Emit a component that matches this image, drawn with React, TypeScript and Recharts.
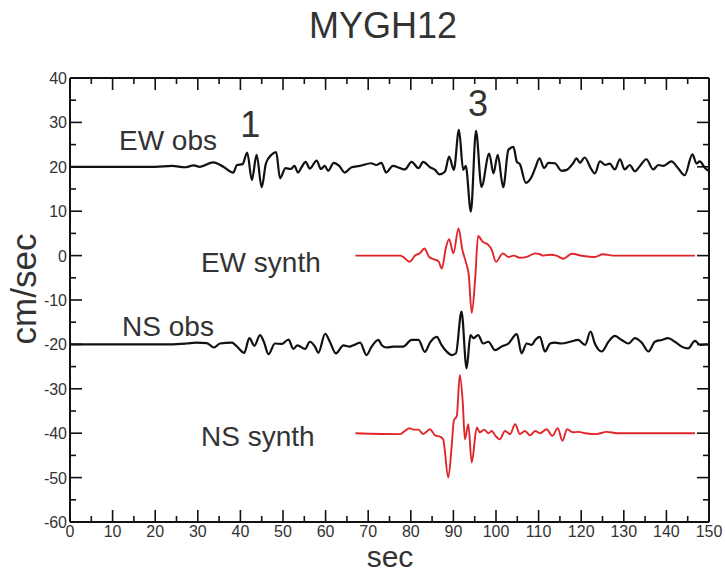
import { LineChart, Line, XAxis, YAxis, ReferenceDot } from 'recharts';

// EW observed, offset to +20
const ewObsT = [0, 10, 20, 24, 27, 29, 30.5, 33.6, 36, 38.3, 39.2, 40.5, 41.6, 42.7, 43.8, 45, 46, 47.3, 48.4, 49.3, 50.6, 51.8, 52.7, 53.5, 54.3, 55.3, 56.3, 57.9, 58.9, 59.8, 60.6, 61.9, 63.2, 64.5, 66.1, 68, 70.7, 71.9, 73.1, 74.2, 75.8, 77.5, 78.6, 80.2, 81.8, 82.9, 84.5, 85.7, 86.7, 88, 89, 90.1, 91.3, 92.3, 92.9, 94.1, 95.3, 96.6, 98.4, 99.4, 100.4, 101.7, 102.9, 104.1, 104.9, 105.6, 107, 108.4, 109.2, 110.2, 111.3, 112.3, 113.8, 115.4, 116.6, 118.1, 118.9, 119.7, 120.8, 122.4, 123.2, 124.4, 125.7, 126.7, 127.9, 129.1, 130.2, 131.4, 132.6, 133.8, 135.3, 136.9, 138.1, 139.3, 141.2, 142.8, 144.3, 146.1, 147.1, 147.8, 149.1, 150];
const ewObsV = [20, 20, 20, 20.2, 19.9, 20.3, 20, 21, 20, 18.7, 20.4, 20.6, 23.2, 17, 22.7, 15.4, 20.8, 22.7, 23.3, 17.4, 19.7, 19.5, 20.2, 18.7, 19.8, 21.1, 19.6, 21.4, 19.5, 20.2, 19.1, 20.9, 20.2, 18.7, 19.9, 20.2, 20.8, 20.4, 20.9, 18.7, 20.2, 19.7, 19.4, 21.1, 19.7, 21.1, 19.9, 19.3, 18.3, 18.9, 22.3, 19.3, 28.3, 19.3, 20.2, 9.9, 28.1, 15.5, 23, 18.5, 22.7, 15.4, 23.8, 24.5, 21.1, 20.6, 16.4, 17.8, 19.7, 21.9, 19.7, 20.9, 20.8, 19.1, 19.3, 20.8, 21.9, 20.9, 22.1, 19.4, 18.5, 21.2, 20.4, 20.7, 19.4, 21.7, 19.4, 20.4, 19, 20.2, 21.7, 19.4, 20.4, 20.2, 21.2, 19.6, 18.1, 22.8, 20.7, 21.2, 19.7, 19];

// EW synthetic, offset 0
const ewSynT = [67, 77.5, 78.2, 79.7, 81, 82.2, 83.2, 84.3, 85.7, 86.5, 87.3, 88.2, 89, 90, 91.2, 92.1, 93, 93.6, 94.3, 95.1, 95.8, 96.9, 98.2, 99, 100, 101.6, 102.9, 104.1, 105.6, 107.2, 109.2, 110.3, 111.1, 112.7, 114.2, 115.8, 117.8, 120.5, 123.2, 125.1, 127.5, 146.7];
const ewSynV = [0, 0, -0.3, -1.4, 0, 0.6, 1.6, -0.3, -0.9, -1.3, -2.9, 1.6, 3.7, 0.5, 6.1, 1.3, -1.7, -4.3, -12.9, -5.4, 4.4, 3.1, 2.4, 1.3, -1.4, 0.5, -0.3, 0, -0.5, -0.3, 0.5, 0.3, 0, 0.2, 0, -0.7, 0.4, -0.1, -0.3, 0.3, 0, 0];

// NS observed, offset to -20
const nsObsT = [0, 10, 23.5, 27.4, 29.7, 32.1, 33.8, 35.2, 38, 39.1, 40.9, 42.1, 43.3, 44.6, 45.5, 46.6, 48.1, 49.7, 51.3, 52.4, 53.4, 55.2, 56.3, 57.5, 58.3, 59.9, 61, 62.4, 64.2, 65.6, 66.5, 68.1, 69.6, 70.8, 72.4, 73.2, 74.3, 75.9, 78.2, 80.2, 81.8, 83.3, 84.5, 86.1, 87.2, 88.4, 89.6, 90.6, 91.9, 93.1, 94, 94.7, 95.8, 97, 98.2, 99.8, 101.3, 102.9, 104.9, 106, 107.2, 108.4, 109.2, 110.3, 111.5, 112.7, 113.8, 115.4, 117.4, 119.3, 120.9, 122.2, 123.2, 124.8, 126.4, 127.9, 129.5, 131.1, 132.6, 134.2, 135.8, 137.3, 138.9, 140.4, 142, 143.6, 145.1, 146.7, 147.9, 150];
const nsObsV = [-20, -20, -20, -19.8, -19.6, -19.7, -20.7, -19.8, -19.6, -20.4, -21.9, -18.6, -20.3, -17.9, -19.4, -22.2, -19.8, -19.9, -18.9, -21, -20.2, -21, -19.4, -20.5, -21.9, -17.6, -19.4, -22, -20.2, -20.5, -20.2, -19.6, -22.4, -20.5, -19, -20.2, -20.7, -20.5, -20.5, -19, -19, -21.7, -19.6, -18.3, -20.1, -21.6, -22.4, -22, -12.6, -25.4, -17.9, -18.6, -17.9, -19.8, -19.4, -21.3, -20.5, -19.8, -17.7, -22, -19.8, -20.1, -19, -18.3, -21.6, -19.8, -19.6, -19.8, -19.4, -19, -20.1, -17.1, -19.8, -21.6, -19.4, -18.1, -19, -19.8, -18.6, -19.6, -21.6, -19.4, -19, -18.6, -19.4, -20.5, -20.9, -19.2, -20.1, -20];

// NS synthetic, offset to -40
const nsSynT = [67, 77.5, 78.6, 79.7, 80.6, 81.8, 82.9, 84.5, 85.7, 86.9, 87.6, 88.8, 89.6, 90.1, 90.8, 91.5, 92.2, 92.7, 93.5, 94.3, 95.5, 96.2, 97.2, 98.2, 99, 99.8, 100.9, 102.1, 103.3, 104.5, 105.6, 106.8, 108, 109.2, 110.3, 111.9, 113.2, 114.5, 115.6, 116.7, 118, 119.3, 121, 123.5, 126, 128.5, 146.7];
const nsSynV = [-40, -40.2, -39.5, -38.9, -39.2, -39.2, -40.2, -39.1, -40.5, -40.8, -41.4, -50, -42.9, -37.2, -36.1, -26.9, -33.1, -41.4, -38, -46.6, -38.7, -39.8, -39.2, -40, -39.5, -40.5, -41.4, -39.5, -40.2, -38, -40.2, -39.5, -40.5, -39.5, -40, -39.1, -40.6, -38.9, -41.7, -39.1, -39.8, -39.7, -40, -40.2, -39.7, -40, -40];

const xTicks = [0, 5, 10, 15, 20, 25, 30, 35, 40, 45, 50, 55, 60, 65, 70, 75, 80, 85, 90, 95, 100, 105, 110, 115, 120, 125, 130, 135, 140, 145, 150];
const yTicks = [-60, -55, -50, -45, -40, -35, -30, -25, -20, -15, -10, -5, 0, 5, 10, 15, 20, 25, 30, 35, 40];

// trace labels: [text, t, v, size]
const labels: [string, number, number, number][] = [
  ['EW obs', 23, 26, 28],
  ['1', 42.3, 29.6, 36],
  ['3', 95.8, 34.4, 36],
  ['EW synth', 44.8, -1.5, 28],
  ['NS obs', 23, -15.9, 28],
  ['NS synth', 44.1, -40.6, 28],
];

const FONT = '"Liberation Sans", Arial, Helvetica, sans-serif';
const TEXT = '#333';

const toPoints = (ts: number[], vs: number[]) => ts.map((t, i) => ({ t, v: vs[i] }));

const tickLen = (v: number) => (v % 10 === 0 ? 12 : 6);

const BottomTick = ({ x, y, payload }: any) => (
  <g>
    <line x1={x} y1={y} x2={x} y2={y - tickLen(payload.value)} stroke="#111" strokeWidth={1.6} />
    {payload.value % 10 === 0 && (
      <text x={x} y={y + 15} textAnchor="middle" fontSize={16} fill={TEXT} fontFamily={FONT}>
        {payload.value}
      </text>
    )}
  </g>
);

const TopTick = ({ x, y, payload }: any) => (
  <line x1={x} y1={y} x2={x} y2={y + tickLen(payload.value)} stroke="#111" strokeWidth={1.6} />
);

const LeftTick = ({ x, y, payload }: any) => (
  <g>
    <line x1={x} y1={y} x2={x + tickLen(payload.value)} y2={y} stroke="#111" strokeWidth={1.6} />
    {payload.value % 10 === 0 && (
      <text x={x - 3} y={y + 6} textAnchor="end" fontSize={16} fill={TEXT} fontFamily={FONT}>
        {payload.value}
      </text>
    )}
  </g>
);

const RightTick = ({ x, y, payload }: any) => (
  <line x1={x} y1={y} x2={x - tickLen(payload.value)} y2={y} stroke="#111" strokeWidth={1.6} />
);

export default function App() {
  const axisLine = { stroke: '#111', strokeWidth: 2 };
  return (
    <div style={{ position: 'absolute', left: 0, top: 0, width: 725, height: 575, background: '#fff' }}>
      <LineChart width={725} height={575} margin={{ top: 77, right: 15, bottom: 52, left: 69 }}>
        <XAxis
          type="number"
          dataKey="t"
          domain={[0, 150]}
          ticks={xTicks}
          height={1}
          tickSize={0}
          tickMargin={0}
          tickLine={false}
          axisLine={axisLine}
          tick={BottomTick}
          interval={0}
          allowDataOverflow
        />
        <XAxis
          xAxisId="top"
          orientation="top"
          type="number"
          dataKey="t"
          domain={[0, 150]}
          ticks={xTicks}
          height={1}
          tickSize={0}
          tickMargin={0}
          tickLine={false}
          axisLine={axisLine}
          tick={TopTick}
          interval={0}
          allowDataOverflow
        />
        <YAxis
          type="number"
          domain={[-60, 40]}
          ticks={yTicks}
          width={1}
          tickSize={0}
          tickMargin={0}
          tickLine={false}
          axisLine={axisLine}
          tick={LeftTick}
          interval={0}
          allowDataOverflow
        />
        <YAxis
          yAxisId="right"
          orientation="right"
          type="number"
          domain={[-60, 40]}
          ticks={yTicks}
          width={1}
          tickSize={0}
          tickMargin={0}
          tickLine={false}
          axisLine={axisLine}
          tick={RightTick}
          interval={0}
          allowDataOverflow
        />
        <Line data={toPoints(ewObsT, ewObsV)} dataKey="v" type="monotone" stroke="#111" strokeWidth={2.2} dot={false} isAnimationActive={false} />
        <Line data={toPoints(ewSynT, ewSynV)} dataKey="v" type="monotone" stroke="#e0262b" strokeWidth={1.9} dot={false} isAnimationActive={false} />
        <Line data={toPoints(nsObsT, nsObsV)} dataKey="v" type="monotone" stroke="#111" strokeWidth={2.2} dot={false} isAnimationActive={false} />
        <Line data={toPoints(nsSynT, nsSynV)} dataKey="v" type="monotone" stroke="#e0262b" strokeWidth={1.9} dot={false} isAnimationActive={false} />
        {labels.map(([text, t, v, size]) => (
          <ReferenceDot
            key={text}
            x={t}
            y={v}
            r={0}
            fill="none"
            stroke="none"
            label={{ value: text, position: 'center', fontSize: size, fill: TEXT, fontFamily: FONT }}
          />
        ))}
      </LineChart>
      <svg width={725} height={575} style={{ position: 'absolute', left: 0, top: 0, pointerEvents: 'none' }}>
        <text x={383} y={38} textAnchor="middle" fontSize={36} fill={TEXT} fontFamily={FONT}>
          MYGH12
        </text>
        <text x={390} y={567} textAnchor="middle" fontSize={30} fill={TEXT} fontFamily={FONT}>
          sec
        </text>
        <text
          x={0}
          y={0}
          transform="translate(36 289) rotate(-90)"
          textAnchor="middle"
          fontSize={35}
          fill={TEXT}
          fontFamily={FONT}
        >
          cm/sec
        </text>
      </svg>
    </div>
  );
}
